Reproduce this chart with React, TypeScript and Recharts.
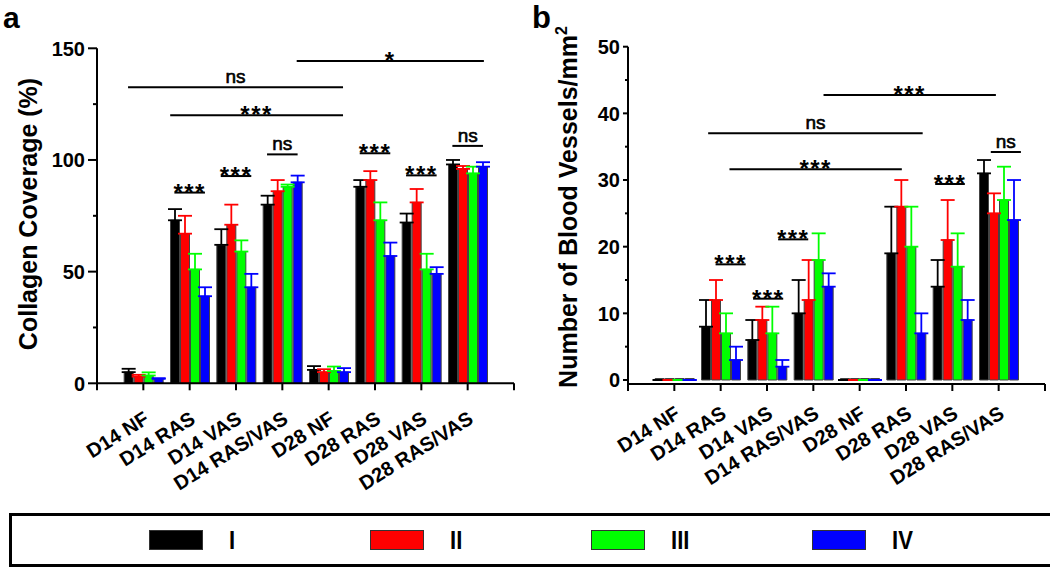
import React from 'react';
import { BarChart, Bar, XAxis, YAxis, ErrorBar, ReferenceLine } from 'recharts';

const categories = ['D14 NF', 'D14 RAS', 'D14 VAS', 'D14 RAS/VAS', 'D28 NF', 'D28 RAS', 'D28 VAS', 'D28 RAS/VAS'];
const groupNames = ['I', 'II', 'III', 'IV'];
const groupColors = ['#000000', '#ff0000', '#00ff00', '#0000ff'];

// panel a - collagen coverage (%), mean + upper SD
const collagenI = [5, 73, 62, 80, 6, 88, 72, 98];
const collagenII = [3, 67, 71, 86, 5, 91, 81, 96];
const collagenIII = [3.5, 51, 59, 88, 5.5, 73, 51, 94];
const collagenIV = [2, 39, 43, 90, 5, 57, 49, 97];
const collagenErrI = [1.5, 5, 7, 4, 1.7, 3, 4, 2];
const collagenErrII = [0.8, 8, 9, 5, 1.3, 4, 6, 1.3];
const collagenErrIII = [1.4, 7, 5, 1, 2, 8, 7, 3];
const collagenErrIV = [0.3, 4, 6, 3, 1.8, 6, 3, 2];

// panel b - blood vessels / mm2
const vesselsI = [0, 8, 6, 10, 0, 19, 14, 31];
const vesselsII = [0, 12, 9, 12, 0, 26, 21, 25];
const vesselsIII = [0, 7, 7, 18, 0, 20, 17, 27];
const vesselsIV = [0, 3, 2, 14, 0, 7, 9, 24];
const vesselsErrI = [0, 4, 3, 5, 0, 7, 4, 2];
const vesselsErrII = [0, 3, 2, 6, 0, 4, 6, 3];
const vesselsErrIII = [0, 3, 4, 4, 0, 6, 5, 5];
const vesselsErrIV = [0, 2, 1, 2, 0, 3, 3, 6];

const collagenTicks = [0, 25, 50, 75, 100, 125, 150];
const vesselTicks = [0, 5, 10, 15, 20, 25, 30, 35, 40, 45, 50];

// significance bars: x in category units (1 = first group), y in axis units
const collagenSig = [
  { text: 'ns', from: 0.67, to: 5.31, y: 132.6 },
  { text: '***', from: 1.58, to: 5.31, y: 120 },
  { text: '*', from: 4.31, to: 8.35, y: 144.3 },
  { text: '***', from: 1.67, to: 2.33, y: 85.4 },
  { text: '***', from: 2.67, to: 3.33, y: 92.8 },
  { text: 'ns', from: 3.67, to: 4.33, y: 102.5 },
  { text: '***', from: 5.67, to: 6.33, y: 103 },
  { text: '***', from: 6.67, to: 7.33, y: 93.1 },
  { text: 'ns', from: 7.67, to: 8.33, y: 106.3 },
];
const vesselSig = [
  { text: '***', from: 4.22, to: 7.94, y: 42.75 },
  { text: 'ns', from: 1.73, to: 6.36, y: 37 },
  { text: '***', from: 2.19, to: 5.91, y: 31.6 },
  { text: '***', from: 1.89, to: 2.54, y: 17.35 },
  { text: '***', from: 2.7, to: 3.35, y: 12.2 },
  { text: '***', from: 3.24, to: 3.89, y: 21.1 },
  { text: '***', from: 6.63, to: 7.27, y: 29.4 },
  { text: 'ns', from: 7.83, to: 8.48, y: 34.2 },
];

const FONT = "'Liberation Sans', Arial, sans-serif";
const xTicks = [0, ...categories.map((_, i) => i + 1), categories.length + 1];

function buildRows(series: number[][], errs: number[][]) {
  return categories.map((name, i) => {
    const row: any = { name, pos: i + 1 };
    series.forEach((s, k) => {
      row['v' + k] = s[i];
      row['e' + k] = [0, errs[k][i]];
    });
    return row;
  });
}

const collagenRows = buildRows(
  [collagenI, collagenII, collagenIII, collagenIV],
  [collagenErrI, collagenErrII, collagenErrIII, collagenErrIV]
);
const vesselRows = buildRows(
  [vesselsI, vesselsII, vesselsIII, vesselsIV],
  [vesselsErrI, vesselsErrII, vesselsErrIII, vesselsErrIV]
);

const XTick = (props: any) => {
  const { x, y, payload, drop } = props;
  const name = categories[payload.value - 1];
  if (!name) return <g />;
  const ax = x + 7;
  const ay = y + drop;
  return (
    <text x={ax} y={ay} transform={`rotate(-32 ${ax} ${ay})`} textAnchor="end"
      fontSize={20} fontWeight="bold" fontFamily={FONT} fill="#000">
      {name}
    </text>
  );
};

const YTick = (props: any) => {
  const { x, y, payload, major, majorLen, minorLen } = props;
  const isMajor = payload.value % major === 0;
  const len = isMajor ? majorLen : minorLen;
  return (
    <g>
      <line x1={x} x2={x - len} y1={y} y2={y} stroke="#000" strokeWidth={2} />
      {isMajor && (
        <text x={x - len - 3} y={y} dy="0.36em" textAnchor="end" fontSize={20}
          fontWeight="bold" fontFamily={FONT} fill="#000">
          {payload.value}
        </text>
      )}
    </g>
  );
};

const sigLabel = (text: string) => (props: any) => {
  const vb = props.viewBox || {};
  const cx = vb.x + (vb.width || 0) / 2;
  const star = text.includes('*');
  return (
    <text x={cx} y={star ? vb.y + 8 : vb.y - 4} textAnchor="middle"
      fontSize={star ? 24 : 19} fontWeight={star ? 'bold' : 'normal'} letterSpacing={star ? 1.5 : 0}
      stroke={star ? 'none' : '#000'} strokeWidth={star ? 0 : 0.6}
      fontFamily={FONT} fill="#000">
      {text}
    </text>
  );
};

function Panel(props: any) {
  const { rows, ticks, major, majorLen, minorLen, domain, sig, drop, marginTop, marginLeft, marginRight, xHeight, minPoint } = props;
  return (
    <BarChart width={525} height={500} data={rows} barGap={1}
      margin={{ top: marginTop, left: marginLeft, right: marginRight, bottom: 0 }}>
      <XAxis type="number" dataKey="pos" domain={[0, categories.length + 1]} ticks={xTicks}
        interval={0} allowDataOverflow height={xHeight} tickSize={7} tickMargin={0}
        axisLine={{ stroke: '#000', strokeWidth: 2 }} tickLine={{ stroke: '#000', strokeWidth: 2 }}
        tick={(p: any) => <XTick {...p} drop={drop} />} />
      <YAxis type="number" domain={domain} ticks={ticks} allowDataOverflow width={60}
        interval={0} tickSize={0} tickMargin={0} tickLine={false}
        axisLine={{ stroke: '#000', strokeWidth: 2 }}
        tick={(p: any) => <YTick {...p} major={major} majorLen={majorLen} minorLen={minorLen} />} />
      {groupNames.map((g, k) => (
        <Bar key={g} dataKey={'v' + k} name={g} fill={groupColors[k]} stroke="#444" strokeWidth={1}
          barSize={9} minPointSize={minPoint} isAnimationActive={false}>
          <ErrorBar dataKey={'e' + k} width={7} strokeWidth={1.8} stroke={groupColors[k]} direction="y" />
        </Bar>
      ))}
      {sig.map((s: any, i: number) => (
        <ReferenceLine key={i} segment={[{ x: s.from, y: s.y }, { x: s.to, y: s.y }]}
          stroke="#000" strokeWidth={2} label={sigLabel(s.text)} />
      ))}
    </BarChart>
  );
}

export default function App() {
  return (
    <div style={{ position: 'absolute', left: 0, top: 0, width: 1050, height: 569, background: '#fff', fontFamily: FONT }}>
      <div style={{ position: 'absolute', left: 0, top: 0 }}>
        <Panel rows={collagenRows} ticks={collagenTicks} major={50} majorLen={9} minorLen={4}
          domain={[0, 150]} sig={collagenSig} drop={32} marginTop={48.3} marginLeft={37}
          marginRight={11} xHeight={116.7} minPoint={0} />
      </div>
      <div style={{ position: 'absolute', left: 525, top: 0 }}>
        <Panel rows={vesselRows} ticks={vesselTicks} major={10} majorLen={5} minorLen={3}
          domain={[-0.6, 50]} sig={vesselSig} drop={26} marginTop={46.7} marginLeft={43}
          marginRight={5} xHeight={116} minPoint={1.5} />
      </div>
      <svg width={1050} height={510} style={{ position: 'absolute', left: 0, top: 0, pointerEvents: 'none' }}>
        <text x={3} y={28} fontSize={30} fontWeight="bold" fontFamily={FONT}>a</text>
        <text x={532} y={28} fontSize={31} fontWeight="bold" fontFamily={FONT}>b</text>
        <text x={37} y={214} transform="rotate(-90 37 214)" textAnchor="middle" fontSize={25}
          fontWeight="bold" fontFamily={FONT}>Collagen Coverage (%)</text>
        <text x={577} y={207} transform="rotate(-90 577 207)" textAnchor="middle" fontSize={25}
          fontWeight="bold" fontFamily={FONT}>
          Number of Blood Vessels/mm<tspan dy={-10} fontSize={16}>2</tspan>
        </text>
      </svg>
      <div style={{ position: 'absolute', left: 9, top: 513, width: 1032, height: 48, border: '3px solid #000',
        display: 'flex', alignItems: 'center', paddingLeft: 137, boxSizing: 'content-box' }}>
        {groupNames.map((g, k) => (
          <div key={g} style={{ display: 'flex', alignItems: 'center', width: 221 }}>
            <div style={{ width: 52, height: 18, background: groupColors[k], border: '1px solid #333' }} />
            <span style={{ marginLeft: 26, fontSize: 26, fontWeight: 'bold', display: 'inline-block',
              transform: 'scaleX(0.85)', transformOrigin: 'left center', lineHeight: 1 }}>{g}</span>
          </div>
        ))}
      </div>
    </div>
  );
}
